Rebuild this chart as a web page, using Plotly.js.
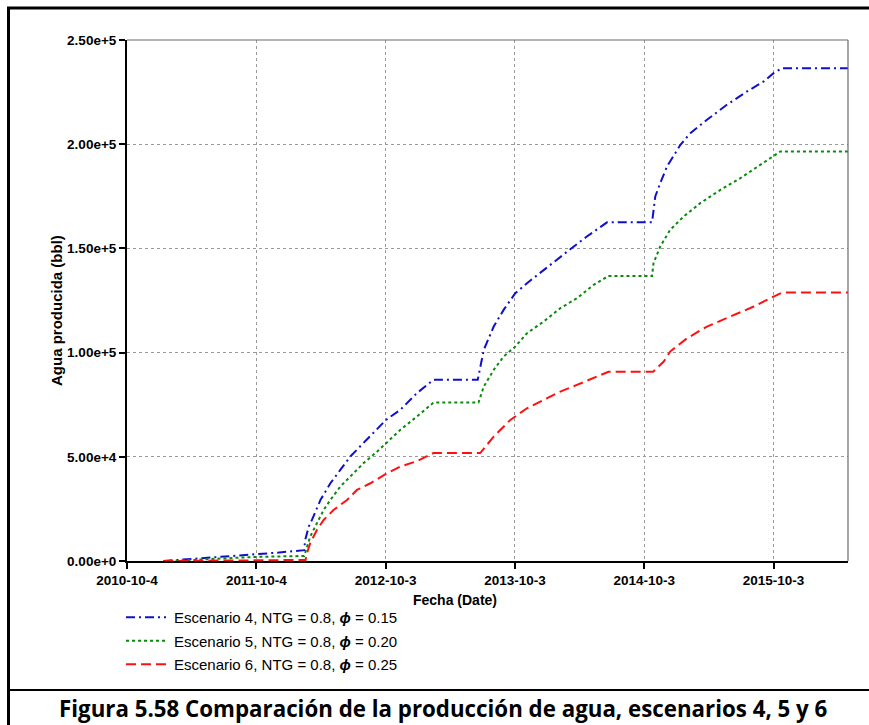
<!DOCTYPE html>
<html>
<head>
<meta charset="utf-8">
<script src="https://cdn.plot.ly/plotly-3.0.1.min.js"></script>
<style>
  html, body { margin: 0; padding: 0; background: #fff; }
  #chart { width: 869px; height: 725px; }
</style>
</head>
<body>
<div id="chart"></div>
<script>
// ---- Data ----
const tickDates = ['2010-10-04', '2011-10-04', '2012-10-03', '2013-10-03', '2014-10-03', '2015-10-03'];
const tickDateLabels = ['2010-10-4', '2011-10-4', '2012-10-3', '2013-10-3', '2014-10-3', '2015-10-3'];
const yTickValues = [0, 50000, 100000, 150000, 200000, 250000];
const yTickLabels = ['0.00e+0', '5.00e+4', '1.00e+5', '1.50e+5', '2.00e+5', '2.50e+5'];

const seriesNames = [
  '\u2009Escenario 4, NTG = 0.8, <b><i>\u03D5</i></b> = 0.15',
  '\u2009Escenario 5, NTG = 0.8, <b><i>\u03D5</i></b> = 0.20',
  '\u2009Escenario 6, NTG = 0.8, <b><i>\u03D5</i></b> = 0.25'
];

const fechas4 = ['2011-01-15','2011-03-23','2011-05-28','2011-08-02','2011-10-07','2011-12-02','2012-02-16',
  '2012-02-19','2012-02-29','2012-03-09','2012-04-02','2012-04-30','2012-05-28','2012-06-25','2012-08-11',
  '2012-10-04','2012-11-13','2012-12-30','2013-02-15','2013-06-20','2013-07-07','2013-08-04','2013-09-01',
  '2013-10-04','2013-11-06','2013-12-23','2014-02-08','2014-03-08','2014-04-24','2014-06-20','2014-10-25',
  '2014-11-03','2014-11-17','2014-12-06','2015-01-13','2015-02-10','2015-03-29','2015-05-24','2015-07-20',
  '2015-09-05','2015-10-03','2015-10-27','2016-04-30'];
const agua4 = [0, 800, 1800, 2400, 3200, 4000, 5200,
  10100, 16500, 19700, 29300, 37300, 43700, 50100, 58300,
  67700, 72500, 80500, 87000, 87000, 101300, 112500, 120500,
  128500, 133300, 139700, 146100, 149600, 155700, 162500, 162500,
  174900, 181300, 189300, 199700, 205300, 211700, 218900, 225300,
  230100, 234100, 236500, 236500];

const fechas5 = ['2011-01-15','2011-02-23','2011-05-28','2011-10-07','2012-02-16','2012-02-24','2012-03-04',
  '2012-03-23','2012-04-11','2012-04-30','2012-05-28','2012-06-25','2012-08-02','2012-09-09','2012-10-04',
  '2012-11-13','2012-12-30','2013-02-15','2013-06-22','2013-07-07','2013-08-04','2013-09-01','2013-10-04',
  '2013-11-06','2013-12-23','2014-02-08','2014-03-27','2014-05-13','2014-06-24','2014-10-25','2014-10-29',
  '2014-11-17','2014-12-15','2015-01-22','2015-03-10','2015-05-06','2015-07-01','2015-08-26','2015-10-03',
  '2015-10-22','2016-04-30'];
const agua5 = [0, 150, 950, 2000, 2400, 6900, 11700,
  18100, 24500, 29300, 35700, 40500, 47000, 52500, 56500,
  62900, 69300, 76000, 76000, 83700, 91700, 98100, 102900,
  109300, 114900, 121300, 126100, 132500, 136800, 136800, 142900,
  150900, 158900, 165300, 171700, 178100, 183700, 190100, 194400,
  196500, 196500];

const fechas6 = ['2011-01-15','2011-10-07','2012-02-20','2012-02-24','2012-03-04','2012-03-23','2012-04-11',
  '2012-05-09','2012-06-16','2012-07-14','2012-08-21','2012-10-07','2012-11-13','2012-12-30','2013-02-15',
  '2013-06-27','2013-08-04','2013-09-20','2013-11-06','2013-12-23','2014-02-08','2014-03-27','2014-05-13',
  '2014-06-24','2014-10-28','2014-11-27','2014-12-15','2015-02-01','2015-03-29','2015-06-03','2015-08-08',
  '2015-10-03','2015-10-27','2016-04-30'];
const agua6 = [0, 300, 500, 3700, 8500, 14900, 19700,
  24500, 29300, 34100, 37300, 42100, 45300, 47900, 51800,
  51800, 59700, 67700, 73300, 77300, 81300, 84500, 87700,
  90800, 90800, 95700, 100500, 106900, 112500, 117300, 122100,
  126900, 128800, 128800];

// ---- Layout helpers (pixel -> paper coordinates) ----
const W = 869, H = 725;
const M = {l: 127, r: 21, t: 40, b: 164};
const PW = W - M.l - M.r, PH = H - M.t - M.b;
const px = x => (x - M.l) / PW;
const py = y => (H - M.b - y) / PH;

const tickFont = {family: '"Liberation Sans", Arial, sans-serif', size: 13.5, color: '#000'};

const traces = [
  {x: fechas4, y: agua4, name: seriesNames[0], legendgroup: 'g4', type: 'scatter', mode: 'lines',
   line: {color: '#1010c8', width: 2, dash: '9px,4px,2px,4px'}},
  {x: fechas5, y: agua5, name: seriesNames[1], legendgroup: 'g5', type: 'scatter', mode: 'lines',
   line: {color: '#0a8a0a', width: 2, dash: '3px,3px'}},
  {x: fechas6, y: agua6, name: seriesNames[2], legendgroup: 'g6', type: 'scatter', mode: 'lines',
   line: {color: '#ff1010', width: 2, dash: '10px,5px'}}
];

const layout = {
  width: W, height: H,
  margin: M,
  paper_bgcolor: '#fff', plot_bgcolor: '#fff',
  showlegend: true,
  legend: {
    x: px(121), y: py(601), xanchor: 'left', yanchor: 'top',
    orientation: 'v', traceorder: 'grouped', tracegroupgap: 1,
    itemwidth: 40,
    font: {family: '"Liberation Sans Narrow", "Arial Narrow", Arial, sans-serif', size: 15, color: '#000'},
    bgcolor: 'rgba(0,0,0,0)', borderwidth: 0
  },
  xaxis: {
    type: 'date',
    range: ['2010-10-04', '2016-04-30'],
    tickvals: tickDates, ticktext: tickDateLabels.map(t => '<b>' + t + '</b>'),
    tickfont: tickFont,
    ticks: 'outside', ticklen: 6, tickwidth: 2, tickcolor: '#000',
    showline: true, linecolor: '#000', linewidth: 2, mirror: false,
    showgrid: true, gridcolor: '#9a9a9a', gridwidth: 1, griddash: '3px,3px',
    zeroline: false, fixedrange: true
  },
  yaxis: {
    range: [0, 250000],
    tickvals: yTickValues, ticktext: yTickLabels.map(t => '<b>' + t + '</b>'),
    tickfont: tickFont,
    ticks: 'outside', ticklen: 6, tickwidth: 2, tickcolor: '#000',
    showline: true, linecolor: '#000', linewidth: 2, mirror: false,
    showgrid: true, gridcolor: '#9a9a9a', gridwidth: 1, griddash: '3px,3px',
    zeroline: false, fixedrange: true
  },
  shapes: [
    // plot frame top/right (thin gray)
    {type: 'line', xref: 'paper', yref: 'paper', x0: 0, x1: 1, y0: 1, y1: 1, line: {color: '#6a6a6a', width: 1.2}},
    {type: 'line', xref: 'paper', yref: 'paper', x0: 1, x1: 1, y0: 0, y1: 1, line: {color: '#6a6a6a', width: 1.2}},
    // outer figure border
    {type: 'line', xref: 'paper', yref: 'paper', x0: px(7), x1: px(872), y0: py(8), y1: py(8), line: {color: '#000', width: 3}},
    {type: 'line', xref: 'paper', yref: 'paper', x0: px(8.5), x1: px(8.5), y0: py(7), y1: py(730), line: {color: '#000', width: 3}},
    // separator above caption
    {type: 'line', xref: 'paper', yref: 'paper', x0: px(8), x1: px(872), y0: py(690), y1: py(690), line: {color: '#000', width: 2}}
  ],
  annotations: [
    {xref: 'paper', yref: 'paper', x: px(56), y: py(311), text: '<b>Agua producida (bbl)</b>', textangle: -90,
     showarrow: false, xanchor: 'center', yanchor: 'middle',
     font: {family: '"Liberation Sans", Arial, sans-serif', size: 15, color: '#000'}},
    {xref: 'paper', yref: 'paper', x: px(454.5), y: py(600), text: '<b>Fecha (Date)</b>',
     showarrow: false, xanchor: 'center', yanchor: 'middle',
     font: {family: '"Liberation Sans", Arial, sans-serif', size: 14, color: '#000'}},
    {xref: 'paper', yref: 'paper', x: px(443), y: py(708),
     text: '<b>Figura 5.58 Comparación de la producción de agua, escenarios 4, 5 y 6</b>',
     showarrow: false, xanchor: 'center', yanchor: 'middle',
     font: {family: '"Open Sans", "Noto Sans", sans-serif', size: 22.3, color: '#000'}}
  ]
};

Plotly.newPlot('chart', traces, layout, {staticPlot: true, displayModeBar: false});
</script>
</body>
</html>
